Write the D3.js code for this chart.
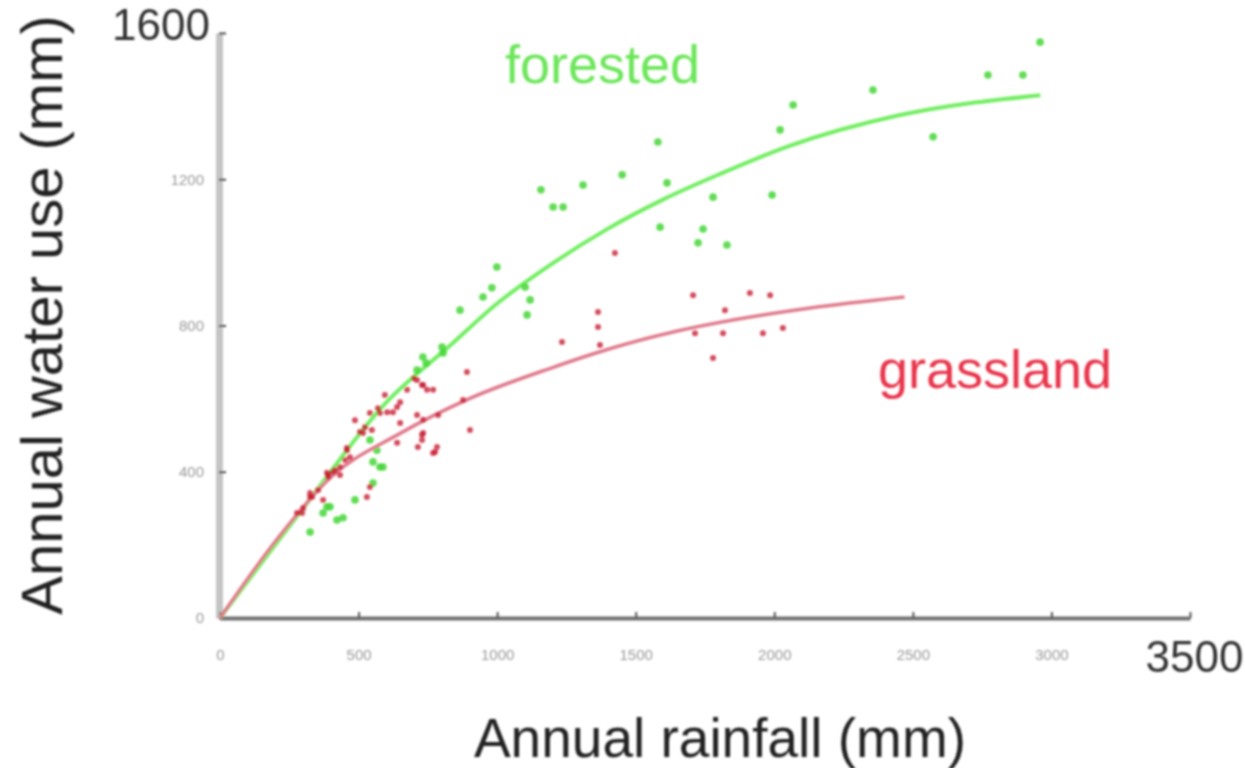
<!DOCTYPE html>
<html>
<head>
<meta charset="utf-8">
<script src="https://cdn.jsdelivr.net/npm/d3@7"></script>
<style>
body { margin: 0; background: #fff; }
</style>
</head>
<body>
<div id="chart"></div>
<script>
// data (mm)
const xTicks = [0, 500, 1000, 1500, 2000, 2500, 3000, 3500];
const yTicks = [0, 400, 800, 1200, 1600];

const forestLine = [[0,0],[300,300],[600,590],[830,745],[1000,860],[1200,970],[1400,1065],[1600,1145],[1800,1213],[2050,1290],[2450,1375],[2960,1430]];
const grassLine = [[0,0],[200,210],[400,385],[650,505],[900,600],[1200,685],[1400,735],[1650,785],[1850,815],[2130,848],[2470,878]];

const forestPts = [[2959,1575],[2771,1485],[2897,1485],[2356,1444],[2573,1316],[2068,1403],[2021,1335],[1992,1157],[1779,1151],[1580,1302],[1451,1212],[1310,1184],[1158,1171],[1202,1124],[1238,1124],[1613,1190],[1588,1069],[1743,1064],[1725,1026],[1829,1020],[999,960],[981,903],[1101,905],[1119,870],[1108,829],[949,878],[866,842],[805,725],[801,741],[732,714],[744,697],[711,678],[577,413],[397,304],[422,268],[325,235],[372,287],[444,274],[386,304],[552,369],[541,487],[566,459],[552,427],[588,413],[487,323]];

const grassPts = [[1707,883],[1912,889],[1985,883],[1364,837],[1364,796],[1822,842],[1234,755],[1371,747],[1714,779],[1815,779],[1959,779],[2031,793],[1779,711],[1425,998],[891,673],[902,514],[776,454],[729,637],[675,624],[769,624],[577,561],[624,563],[787,555],[877,596],[516,506],[729,501],[458,465],[639,479],[714,468],[769,451],[390,391],[433,391],[530,331],[372,323],[296,287],[325,342],[595,610],[487,541],[548,514],[451,432],[415,405],[386,397],[332,331],[541,358],[700,655],[650,590],
  [541,561],[570,574],[603,563],[639,577],[505,509],[523,522],[458,459],[469,440],[408,399],[390,386],[433,413],[354,350],[325,331],[300,301],[278,287],[711,555],[733,542],[650,533],[733,506],[729,487],[783,468],[711,651],[733,637],[747,624]];

const W = 1245, H = 768;
const font = "'Liberation Sans', Arial, sans-serif";

const svg = d3.select("#chart").append("svg")
    .attr("width", W).attr("height", H)
    .style("font-family", font);

// the reference is a soft upscaled image, so blur everything a little
svg.append("defs").append("filter").attr("id", "soft")
    .append("feGaussianBlur").attr("stdDeviation", 0.9);

const g = svg.append("g").attr("filter", "url(#soft)");

const x = d3.scaleLinear().domain([0, 3500]).range([220, 1190]);
const y = d3.scaleLinear().domain([0, 1600]).range([618, 33]);
const fmt = d3.format("d");

// Y axis: light grey bar with small dark ticks
g.append("g")
    .attr("transform", "translate(219,0)")
    .call(d3.axisRight(y).tickValues(yTicks).tickSize(7).tickSizeOuter(0).tickFormat(""))
    .call(a => a.select(".domain").attr("stroke", "#c4c4c4").attr("stroke-width", 7))
    .call(a => a.selectAll(".tick line").attr("stroke", "#444").attr("stroke-width", 2));

const yLab = g.append("g")
    .attr("transform", "translate(219,0)")
    .call(d3.axisLeft(y).tickValues(yTicks).tickSize(0).tickPadding(15).tickFormat(fmt))
    .call(a => a.select(".domain").remove());
yLab.selectAll("text")
    .attr("fill", "#999").style("font-size", "15px").style("font-family", font);
yLab.selectAll("text").filter(d => d === 1600)
    .attr("fill", "#333").style("font-size", "44px").attr("x", -9).attr("dy", "0.15em");

// X axis: dark line, ticks pointing up
g.append("g")
    .attr("transform", "translate(0,618)")
    .call(d3.axisTop(x).tickValues(xTicks).tickSize(6).tickSizeOuter(0).tickFormat(""))
    .call(a => a.select(".domain").attr("stroke", "#707070").attr("stroke-width", 4))
    .call(a => a.selectAll(".tick line").attr("stroke", "#555").attr("stroke-width", 2));

const xLab = g.append("g")
    .attr("transform", "translate(0,618)")
    .call(d3.axisBottom(x).tickValues(xTicks).tickSize(0).tickPadding(31).tickFormat(fmt))
    .call(a => a.select(".domain").remove());
xLab.selectAll("text")
    .attr("fill", "#999").style("font-size", "15px").style("font-family", font);
xLab.selectAll("text").filter(d => d === 3500)
    .attr("fill", "#333").style("font-size", "44px").attr("y", 23).attr("x", 4);

// fitted curves and points
const line = d3.line().x(d => x(d[0])).y(d => y(d[1])).curve(d3.curveMonotoneX);

g.append("path").datum(forestLine)
    .attr("d", line).attr("fill", "none")
    .attr("stroke", "#72ee62").attr("stroke-width", 4);

g.append("g").selectAll("circle")
    .data(forestPts).enter().append("circle")
    .attr("cx", d => x(d[0])).attr("cy", d => y(d[1]))
    .attr("r", 3.8)
    .attr("fill", "#44d636").attr("opacity", 0.85);

g.append("path").datum(grassLine)
    .attr("d", line).attr("fill", "none")
    .attr("stroke", "#e07a8c").attr("stroke-width", 3.5);

g.append("g").selectAll("circle")
    .data(grassPts).enter().append("circle")
    .attr("cx", d => x(d[0])).attr("cy", d => y(d[1]))
    .attr("r", 3)
    .attr("fill", "#c81e34").attr("opacity", 0.8);

// labels
g.append("text").attr("x", 505).attr("y", 83)
    .attr("fill", "#6ce65a").style("font-size", "54px").text("forested");

g.append("text").attr("x", 878).attr("y", 388)
    .attr("fill", "#e8364c").style("font-size", "54px").text("grassland");

g.append("text")
    .attr("transform", "translate(62,315) rotate(-90)")
    .attr("text-anchor", "middle")
    .attr("fill", "#222").style("font-size", "58px")
    .text("Annual water use (mm)");

g.append("text")
    .attr("x", 720).attr("y", 757)
    .attr("text-anchor", "middle")
    .attr("fill", "#222").style("font-size", "55px")
    .text("Annual rainfall (mm)");
</script>
</body>
</html>
